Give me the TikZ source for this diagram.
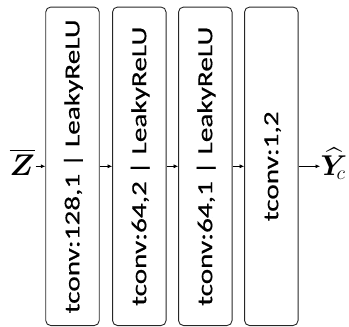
\documentclass[tikz,border=0pt]{standalone}
\usepackage{fontspec}
\setmainfont{Carlito}
\newfontfamily\boxfont[FakeBold=0.35]{Carlito}
\usepackage{amsmath}
\usepackage{bm}
\usetikzlibrary{arrows.meta}
\newcommand{\rottext}[1]{\rotatebox{90}{\raisebox{0pt}[13.8pt][0pt]{\scalebox{1.36}[1]{#1}}}}
\tikzset{
  layerbox/.style={draw=black!85, line width=0.9pt, rounded corners=5pt,
    minimum width=53.5pt, minimum height=318.5pt, inner sep=0pt,
    font=\boxfont\fontsize{21.5}{26}\selectfont},
  conn/.style={line width=0.6pt, -{Latex[length=4.5pt,width=4pt]}},
  mathlbl/.style={inner sep=0.5pt, font=\fontsize{24}{29}\selectfont}
}
\begin{document}
\begin{tikzpicture}[x=1pt,y=-1pt]
\useasboundingbox (0,0) rectangle (349,327);
\node[layerbox] (b1) at (72.5,166.3) {\rottext{tconv:128,1 | LeakyReLU}};
\node[layerbox] (b2) at (139.3,166.3) {\rottext{tconv:64,2 | LeakyReLU}};
\node[layerbox] (b3) at (205.3,166.3) {\rottext{tconv:64,1 | LeakyReLU}};
\node[layerbox] (b4) at (271.3,166.3) {\rottext{tconv:1,2}};
\node[mathlbl, anchor=base west] (z) at (9,175.5) {\scalebox{1.2}{$\overline{\bm{Z}}$}};
\node[mathlbl, anchor=base west] (y) at (320,175.5) {\scalebox{1.15}{$\widehat{\bm{Y}}_{\!c}$}};
\draw[conn] (z.east |- b1.west) -- (b1.west);
\draw[conn] (b1.east) -- (b2.west);
\draw[conn] (b2.east) -- (b3.west);
\draw[conn] (b3.east) -- (b4.west);
\draw[conn] (b4.east) -- (b4.east -| y.west);
\end{tikzpicture}
\end{document}
